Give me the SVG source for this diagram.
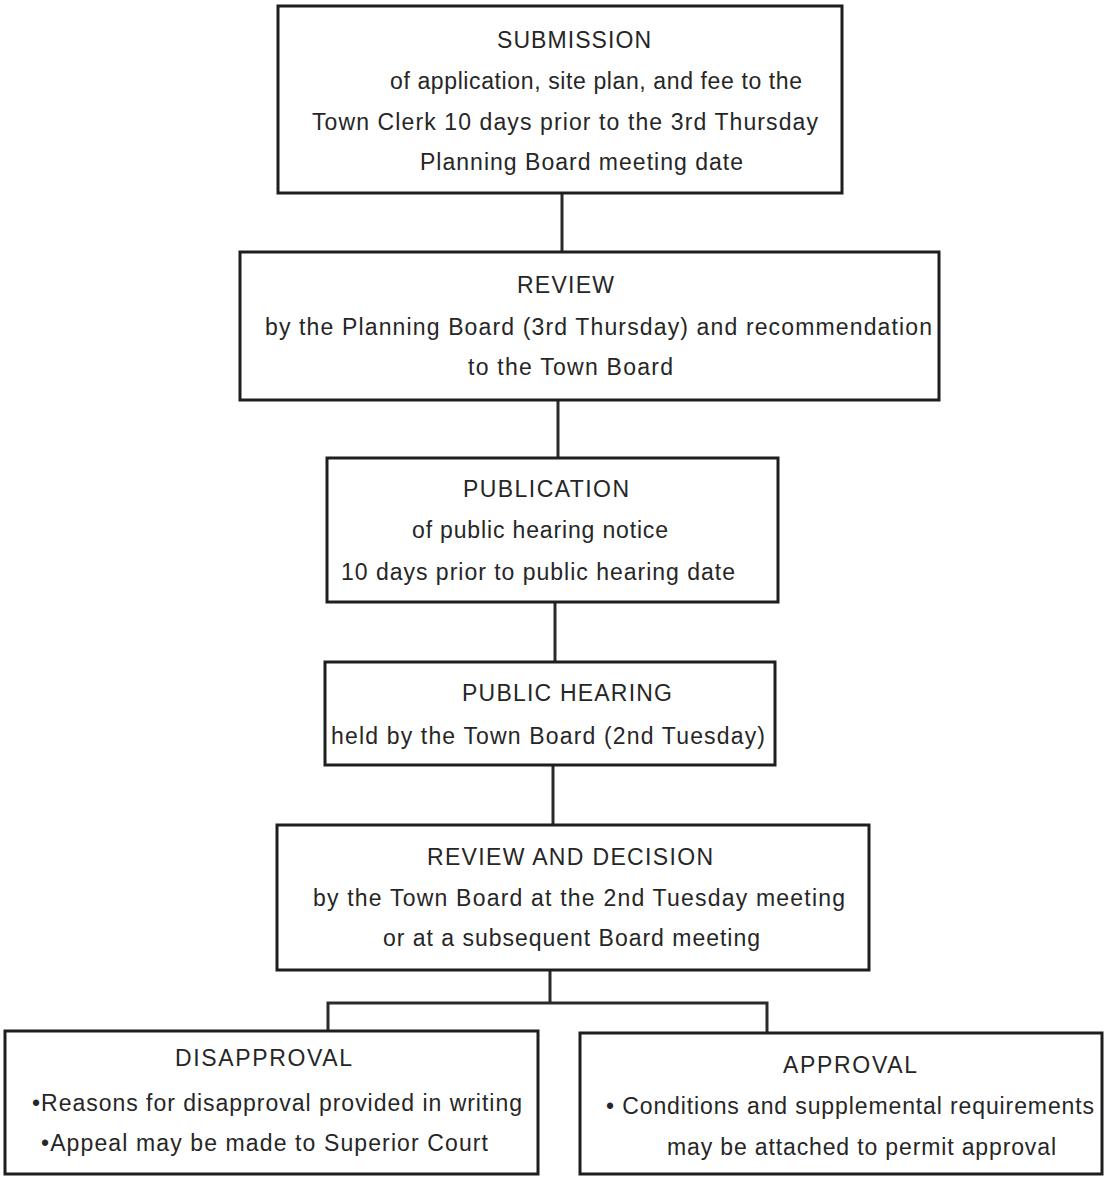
<svg xmlns="http://www.w3.org/2000/svg" width="1105" height="1180" viewBox="0 0 1105 1180">
<style>
.box{fill:#fff;stroke:#1e1e1e;stroke-width:3}
.con{fill:none;stroke:#2a2a2a;stroke-width:3}
text{font-family:"Liberation Sans",Arial,Helvetica,sans-serif;font-size:23px;fill:#262626}
</style>
<rect width="1105" height="1180" fill="#fff"/>
<g id="connectors">
<line class="con" x1="562" y1="193" x2="562" y2="251"/>
<line class="con" x1="558" y1="400" x2="558" y2="458"/>
<line class="con" x1="555" y1="602" x2="555" y2="662"/>
<line class="con" x1="553" y1="765" x2="553" y2="825"/>
<polyline class="con" points="550,970 550,1003"/>
<polyline class="con" points="328,1031 328,1003 767,1003 767,1033"/>
</g>
<g id="submission">
<rect class="box" x="278" y="6" width="564" height="187"/>
<text x="497" y="48" textLength="154">SUBMISSION</text>
<text x="390" y="89" textLength="412">of application, site plan, and fee to the</text>
<text x="312" y="130" textLength="506">Town Clerk 10 days prior to the 3rd Thursday</text>
<text x="420" y="170" textLength="323">Planning Board meeting date</text>
</g>
<g id="review">
<rect class="box" x="240" y="252" width="699" height="148"/>
<text x="517" y="293" textLength="97">REVIEW</text>
<text x="265" y="335" textLength="667">by the Planning Board (3rd Thursday) and recommendation</text>
<text x="468" y="375" textLength="205">to the Town Board</text>
</g>
<g id="publication">
<rect class="box" x="327" y="458" width="451" height="144"/>
<text x="463" y="497" textLength="166">PUBLICATION</text>
<text x="412" y="538" textLength="256">of public hearing notice</text>
<text x="341" y="580" textLength="394">10 days prior to public hearing date</text>
</g>
<g id="public-hearing">
<rect class="box" x="325" y="662" width="450" height="103"/>
<text x="462" y="701" textLength="210">PUBLIC HEARING</text>
<text x="331" y="744" textLength="434">held by the Town Board (2nd Tuesday)</text>
</g>
<g id="review-decision">
<rect class="box" x="277" y="825" width="592" height="145"/>
<text x="427" y="865" textLength="286">REVIEW AND DECISION</text>
<text x="313" y="906" textLength="532">by the Town Board at the 2nd Tuesday meeting</text>
<text x="383" y="946" textLength="377">or at a subsequent Board meeting</text>
</g>
<g id="disapproval">
<rect class="box" x="5" y="1031" width="533" height="143"/>
<text x="175" y="1066" textLength="177">DISAPPROVAL</text>
<text x="32" y="1111" textLength="490">•Reasons for disapproval provided in writing</text>
<text x="41" y="1151" textLength="447">•Appeal may be made to Superior Court</text>
</g>
<g id="approval">
<rect class="box" x="580" y="1033" width="522" height="141"/>
<text x="783" y="1073" textLength="134">APPROVAL</text>
<text x="606" y="1114" textLength="488">• Conditions and supplemental requirements</text>
<text x="667" y="1155" textLength="389">may be attached to permit approval</text>
</g>
</svg>
